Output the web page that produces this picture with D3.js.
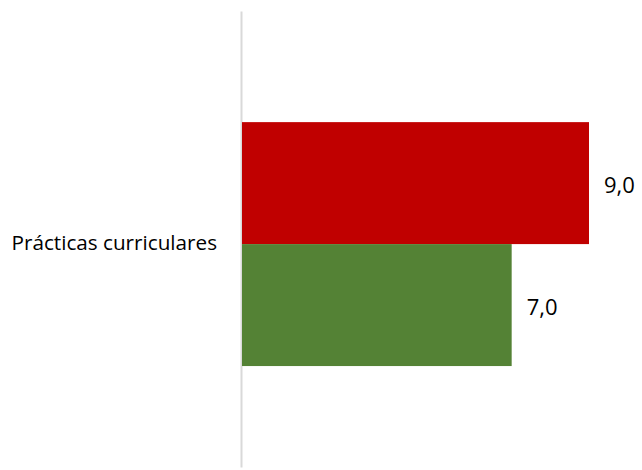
<!DOCTYPE html>
<html>
<head>
<meta charset="utf-8">
<script src="https://cdn.jsdelivr.net/npm/d3@7"></script>
<style>
  body { margin: 0; background: #fff; }
  text { font-family: "Open Sans", "Noto Sans", sans-serif; fill: #000; }
</style>
</head>
<body>
<svg id="chart" width="642" height="470"></svg>
<script>
const categories = ["Prácticas curriculares"];
const seriesNames = ["Serie 1", "Serie 2"];
const seriesValues = [9.0, 7.0];
const seriesColors = ["#c00000", "#548235"];

const width = 642, height = 470;
const margin = { top: 11, right: 53, bottom: 3, left: 241 };

const svg = d3.select("#chart");
const fmt = v => v.toFixed(1).replace(".", ",");

const x = d3.scaleLinear()
  .domain([0, d3.max(seriesValues)])
  .range([margin.left, width - margin.right]);

const y = d3.scaleBand()
  .domain(categories)
  .range([margin.top, height - margin.bottom])
  .padding(0.303)
  .align(0.524);

const ySub = d3.scaleBand()
  .domain(seriesNames)
  .range([0, y.bandwidth()]);

// axis with category label
const axis = svg.append("g")
  .attr("transform", `translate(${margin.left},0)`)
  .call(d3.axisLeft(y).tickSize(0).tickPadding(24));
axis.select(".domain").attr("stroke", "#d9d9d9").attr("stroke-width", 2);
axis.selectAll(".tick text")
  .attr("font-size", 20.7)
  .attr("dy", "0.3em")
  .attr("font-family", "'Open Sans', 'Noto Sans', sans-serif")
  .attr("fill", "#000");

const rows = seriesNames.map((s, i) => ({ cat: categories[0], name: s, value: seriesValues[i], color: seriesColors[i] }));

svg.append("g").selectAll("rect")
  .data(rows)
  .join("rect")
  .attr("x", x(0) + 1)
  .attr("y", d => y(d.cat) + ySub(d.name))
  .attr("width", d => x(d.value) - x(0) - 1)
  .attr("height", ySub.bandwidth())
  .attr("fill", d => d.color);

svg.append("g").selectAll("text")
  .data(rows)
  .join("text")
  .attr("x", d => x(d.value) + 15)
  .attr("y", d => y(d.cat) + ySub(d.name) + ySub.bandwidth() / 2)
  .attr("dy", "0.43em")
  .attr("font-size", 22)
  .text(d => fmt(d.value));
</script>
</body>
</html>
